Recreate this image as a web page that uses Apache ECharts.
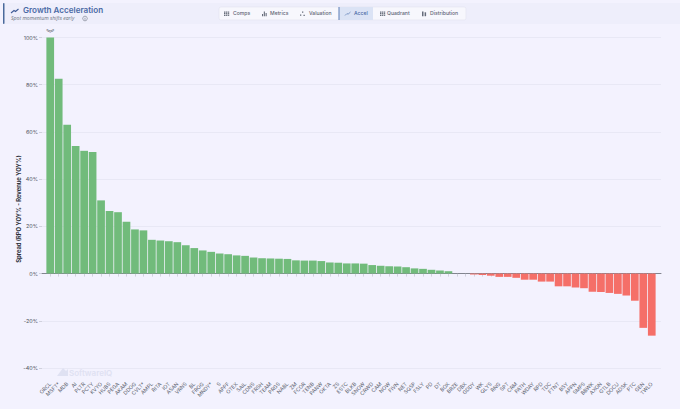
<!DOCTYPE html>
<html><head><meta charset="utf-8">
<style>html,body{margin:0;padding:0;background:#f3f2fe}#c{width:680px;height:409px}</style>
<script src="https://cdn.jsdelivr.net/npm/echarts@6/dist/echarts.min.js"></script>
</head><body><div id="c"></div>
<script>
const tickers = ["ORCL","MSFT*","MDB","AI","PLTR","PCTY","KVYO","HUBS","PEGA","AKAM","DDOG","CVLT*","AMPL","RITA","IOT","ASAN","VRNS","BL","FROG","MNDY*","S","APPF","OTEX","SAIL","CDNS","FRSH","TEAM","PRGS","NABL","ZM","FCOR","TENB","PANW","OKTA","ZS","ESTC","BLKB","SNOW","CRWD","CAM","NOW","FIVN","NET","SQSP","FSLY","PD","DT","BOX","BRZE","DBX","GDDY","WK","QLYS","RNG","SPT","CRM","PATH","WDAY","RPD","TDC","FTNT","BSY","APPN","SMPS","BBWK","AXON","GTLB","DOCU","ADSK","PTC","GEN","TWLO"];
const spread = [100,82.5,63,54,52,51.5,31,26.5,26,22,18.7,18.3,14.3,14,13.7,13.3,12,10.8,9.8,9.2,8.5,8.2,7.7,7.5,6.8,6.5,6.4,6.3,6.2,5.6,5.5,5.5,5.3,4.7,4.6,4.3,4.3,4.2,3.6,3.3,3.1,3.0,2.7,2.2,2.0,1.6,1.3,1.0,0,0,-0.4,-0.6,-0.9,-1.4,-1.4,-1.8,-2.6,-2.6,-3.4,-3.4,-5.4,-5.4,-5.9,-6.2,-7.7,-7.8,-8.2,-8.6,-9.3,-11.5,-23,-26.3];
const tabs = ["Comps","Metrics","Valuation","Accel","Quadrant","Distribution"];
const tabIconX = [224,262,300,345,380,422];
const tabTextX = [233,270,309,354,387,430];
const font = "Inter";
const chart = echarts.init(document.getElementById('c'), null, {renderer:'svg'});
const g = [
 {type:'rect',z:0,shape:{x:3,y:3,width:677,height:21},style:{fill:'#eeeefb'}},
 {type:'rect',z:1,shape:{x:3,y:3,width:1.5,height:21,r:1},style:{fill:'#4a6a9c'}},
 {type:'polyline',z:2,shape:{points:[[11,13],[14,10.5],[15.5,11.5],[18.5,9]]},style:{stroke:'#3f5c96',lineWidth:1.1,fill:'none'}},
 {type:'text',z:2,x:23,y:5.5,style:{text:'Growth Acceleration',font:'600 8.1px '+font,fill:'#4a6aa5'}},
 {type:'text',z:2,x:11,y:15.5,style:{text:'Spot momentum shifts early',font:'italic 5.1px "Open Sans"',fill:'#6b7280'}},
 {type:'circle',z:2,shape:{cx:85,cy:18.5,r:2.3},style:{fill:'none',stroke:'#6b7280',lineWidth:0.6}},
 {type:'rect',z:2,shape:{x:84.7,y:17.7,width:.6,height:2},style:{fill:'#6b7280'}},
 {type:'rect',z:1,shape:{x:219,y:7,width:247,height:13,r:2},style:{fill:'#f7f7fd',stroke:'#e2e3f0',lineWidth:0.6}},
 {type:'rect',z:2,shape:{x:339,y:7,width:34,height:13},style:{fill:'#dbe3f5'}},
 {type:'rect',z:3,shape:{x:338.5,y:7,width:1,height:13},style:{fill:'#5b7cb5'}},
 {type:'text',z:3,x:18,y:209,rotation:Math.PI/2,style:{text:'Spread (RPO YOY% - Revenue YOY%)',font:'bold 5.8px '+font,fill:'#2b2f3a',align:'center',verticalAlign:'middle'}}
];
function iconRect(x,y,w,h,fill){g.push({type:'rect',z:3,shape:{x,y,width:w,height:h},style:{fill}});}
const ic='#666c7a';
tabs.forEach((t,i)=>{
  const active = t==='Accel', x=tabIconX[i];
  if(t==='Comps'||t==='Quadrant'){
    for(let a=0;a<3;a++)for(let b=0;b<3;b++)iconRect(x+a*1.9,11.5+b*1.6,1.4,1.2,ic);
  } else if(t==='Metrics'){
    iconRect(x,14,1.1,2.2,ic);iconRect(x+1.8,11.5,1.1,4.7,ic);iconRect(x+3.6,13,1.1,3.2,ic);
  } else if(t==='Valuation'){
    iconRect(x+2,11.5,1.3,1.3,ic);iconRect(x,14.5,1.3,1.3,ic);iconRect(x+3.5,14.8,1.3,1.3,ic);
  } else if(t==='Distribution'){
    iconRect(x,11.5,1.5,4.7,ic);iconRect(x+2.6,12.3,1.5,3.9,ic);
  } else {
    g.push({type:'polyline',z:3,shape:{points:[[x,15.5],[x+2,13.5],[x+3,14.3],[x+5.5,12]]},style:{stroke:'#5b7cb5',lineWidth:.7,fill:'none'}});
  }
  g.push({type:'text',z:3,x:tabTextX[i],y:10.6,style:{text:t,font:'500 5.1px '+font,fill:active?'#4a6aa5':'#5f6675'}});
});
g.push({type:'text',z:1,x:69,y:368.5,style:{text:'SoftwareIQ',font:'600 8px '+font,fill:'#dfe1f2'}});
g.push({type:'polygon',z:1,shape:{points:[[57,376],[63,368],[66,371],[68,369],[68,376]]},style:{fill:'#dfe1f2'}});

chart.setOption({
 animation:false,
 backgroundColor:'#f3f2fe',
 textStyle:{fontFamily:font},
 graphic:g,
 grid:[
  {left:46,right:24,top:37.5,height:330.5},
  {left:42,right:19,top:37.5,height:330.5}
 ],
 xAxis:[
  {type:'category',gridIndex:0,data:tickers,position:'bottom',offset:12,
   axisLine:{show:false},axisTick:{show:true,alignWithLabel:true,length:3,lineStyle:{color:'#b9bac6',width:.6}},
   axisLabel:{interval:0,rotate:45,fontSize:5.2,color:'#5a5f6d',margin:3,fontFamily:font}},
  {type:'value',gridIndex:1,min:0,max:1,show:true,axisLabel:{show:false},axisTick:{show:false},splitLine:{show:false},
   axisLine:{onZero:true,show:true,lineStyle:{color:'#70737c',width:1,opacity:.85}}}
 ],
 yAxis:[
  {type:'value',gridIndex:0,min:-40,max:100,interval:20,show:false},
  {type:'value',gridIndex:1,min:-40,max:100,interval:20,
   axisLine:{show:false},axisTick:{show:true,length:3,lineStyle:{color:'#b9bac6',width:.6}},
   axisLabel:{formatter:'{value}%',fontSize:5.4,color:'#4d5260',margin:4,fontFamily:font},
   splitLine:{show:true,lineStyle:{color:'#e4e4f2',width:.8}}}
 ],
 series:[{
  type:'bar',xAxisIndex:0,yAxisIndex:0,barWidth:7.7,z:2,
  data:spread.map((v,i)=>({value:v,itemStyle:{color:v>=0?'#71bb7b':'#f56f68'},
    label: i===0?{show:true,position:'top',distance:2,formatter:'︾',fontSize:8,lineHeight:6,height:6,color:'#555a66',fontFamily:'Noto Sans CJK SC'}:{show:false}}))
 }]
});
</script></body></html>
